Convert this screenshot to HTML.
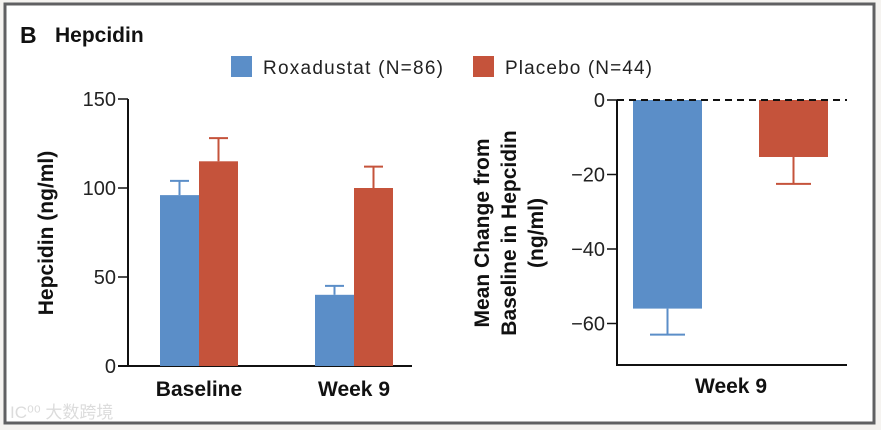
<!DOCTYPE html>
<html><head><meta charset="utf-8"><style>
body{margin:0;background:#f5f3f0;}
svg{display:block;font-family:"Liberation Sans","Noto Sans CJK SC",sans-serif;}
</style></head><body>
<svg id="c" width="881" height="430" xmlns="http://www.w3.org/2000/svg">
<rect x="0" y="0" width="881" height="430" fill="#f5f3f0"/>
<rect x="5" y="4" width="869" height="419" fill="#ffffff" stroke="#606062" stroke-width="3"/>
<text x="20" y="43" font-size="23" font-weight="bold" fill="#111">B</text>
<text x="55" y="42" font-size="21" font-weight="bold" fill="#111">Hepcidin</text>
<rect x="231" y="56" width="21" height="21" fill="#5b8ec8"/>
<text x="263" y="74" font-size="19" fill="#222" textLength="180">Roxadustat (N=86)</text>
<rect x="473" y="56" width="21" height="21" fill="#c5533b"/>
<text x="505" y="74" font-size="19" fill="#222" textLength="147">Placebo (N=44)</text>
<text transform="translate(53,233) rotate(-90)" text-anchor="middle" font-size="21" font-weight="bold" fill="#111">Hepcidin (ng/ml)</text>
<text transform="translate(489,233) rotate(-90)" text-anchor="middle" font-size="21" font-weight="bold" fill="#111">Mean Change from</text>
<text transform="translate(516,233) rotate(-90)" text-anchor="middle" font-size="21" font-weight="bold" fill="#111">Baseline in Hepcidin</text>
<text transform="translate(543,233) rotate(-90)" text-anchor="middle" font-size="21" font-weight="bold" fill="#111">(ng/ml)</text>
<text x="10" y="418" font-size="17" fill="#dcdcdc">IC⁰⁰ 大数跨境</text>
<g id="left"></g><g id="right"></g>
</svg>
<script>
const leftCategories=["Baseline","Week 9"];
const roxaMeans=[96,40];
const roxaErr=[104,45];
const placMeans=[115,100];
const placErr=[128,112];
const leftTicks=[0,50,100,150];
const rightCategories=["Week 9"];
const rightMeans=[-56,-15.3];
const rightErr=[-63,-22.5];
const rightTicks=[0,-20,-40,-60];
const BLUE="#5b8ec8",RED="#c5533b",NS="http://www.w3.org/2000/svg";
function mk(p,t,a){const e=document.createElementNS(NS,t);for(const k in a)e.setAttribute(k,a[k]);p.appendChild(e);return e;}
const L=document.getElementById('left'),R=document.getElementById('right');
const ly=v=>366-v*(267/150);
const lcx=[199,354];
mk(L,'line',{x1:128,y1:99,x2:128,y2:367,stroke:'#111','stroke-width':2});
const lx=mk(L,'line',{x1:118,y1:366,x2:412,y2:366,stroke:'#111','stroke-width':2});


leftTicks.forEach(t=>{
  mk(L,'line',{x1:118,y1:ly(t),x2:128,y2:ly(t),stroke:'#111','stroke-width':1.5});
  const tx=mk(L,'text',{x:116,y:ly(t)+7,'text-anchor':'end','font-size':20,fill:'#222'});tx.textContent=t;
  
  
});
leftCategories.forEach((c,i)=>{
  const cx=lcx[i];
  [[roxaMeans[i],roxaErr[i],BLUE,cx-39,'roxadustat'],[placMeans[i],placErr[i],RED,cx,'placebo']].forEach(([m,e,col,x,n])=>{
    mk(L,'line',{x1:x+19.5,y1:ly(e),x2:x+19.5,y2:ly(m),stroke:col,'stroke-width':2});
    mk(L,'line',{x1:x+10,y1:ly(e),x2:x+29,y2:ly(e),stroke:col,'stroke-width':2});
    const b=mk(L,'rect',{x:x,y:ly(m),width:39,height:ly(0)-ly(m),fill:col});
    
    
  });
  const tx=mk(L,'text',{x:cx,y:396,'text-anchor':'middle','font-size':21,'font-weight':'bold',fill:'#111'});tx.textContent=c;
  
  
});
const ry=v=>100-v*(223.5/60);
mk(R,'line',{x1:617,y1:100,x2:617,y2:366,stroke:'#111','stroke-width':2});
mk(R,'line',{x1:616,y1:365,x2:847,y2:365,stroke:'#111','stroke-width':2});
rightTicks.forEach(t=>{
  mk(R,'line',{x1:607,y1:ry(t),x2:617,y2:ry(t),stroke:'#111','stroke-width':1.5});
  const tx=mk(R,'text',{x:605,y:ry(t)+7,'text-anchor':'end','font-size':20,fill:'#222'});tx.textContent=t<0?'−'+(-t):t;
  
  
});
[[0,BLUE,633,'roxadustat'],[1,RED,759,'placebo']].forEach(([i,col,x,n])=>{
  mk(R,'line',{x1:x+34.5,y1:ry(rightMeans[i]),x2:x+34.5,y2:ry(rightErr[i]),stroke:col,'stroke-width':2});
  mk(R,'line',{x1:x+17,y1:ry(rightErr[i]),x2:x+52,y2:ry(rightErr[i]),stroke:col,'stroke-width':2});
  const b=mk(R,'rect',{x:x,y:ry(0),width:69,height:ry(rightMeans[i])-ry(0),fill:col});
  
  
});
const zl=mk(R,'line',{x1:617,y1:100,x2:847,y2:100,stroke:'#111','stroke-width':2,'stroke-dasharray':'7,5'});


const rt=mk(R,'text',{x:731,y:393,'text-anchor':'middle','font-size':21,'font-weight':'bold',fill:'#111'});rt.textContent=rightCategories[0];


</script>
</body></html>
